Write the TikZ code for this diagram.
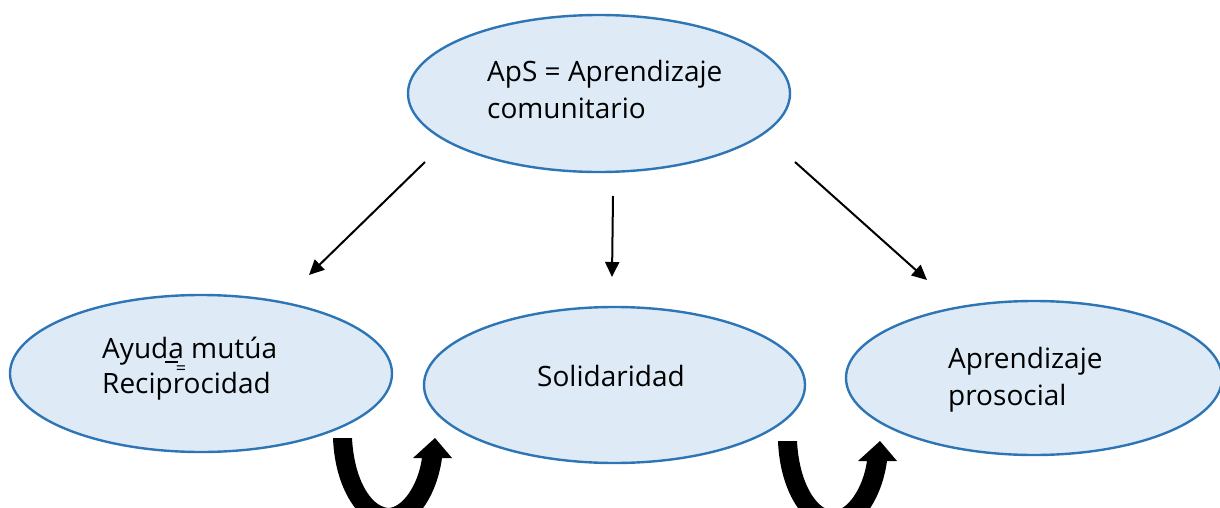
\documentclass[tikz,border=0pt]{standalone}
\usepackage{fontspec}
\setmainfont{Open Sans}
\usetikzlibrary{shapes.geometric,arrows.meta}
\definecolor{ellfill}{HTML}{DEEBF7}
\definecolor{ellline}{HTML}{2E75B6}
\tikzset{
  bubble/.style={ellipse, draw=ellline, fill=ellfill, line width=2.4pt, inner sep=0pt},
  lbl/.style={anchor=base west, inner sep=0pt, font=\fontsize{28}{36}\selectfont},
  link/.style={line width=2pt, -{Triangle[length=15pt,width=14pt]}},
  uturn/.pic={
    \fill[black] (333,438) .. controls (335,492) and (362,528) .. (390,528)
      .. controls (416,528) and (437,495) .. (442,458) -- (452,458) -- (435,438) -- (413,458) -- (422,458)
      .. controls (418,486) and (402,508) .. (388,508)
      .. controls (370,506) and (354,478) .. (352,438) -- cycle;
  }
}
\begin{document}
\begin{tikzpicture}[x=1pt,y=-1pt]
\useasboundingbox (0,0) rectangle (1220,508);
\clip (0,0) rectangle (1220,508);
\node[bubble, minimum width=382pt, minimum height=157pt] (top) at (599,93.5) {};
\node[bubble, minimum width=382pt, minimum height=157pt] (left) at (201,373.5) {};
\node[bubble, minimum width=381pt, minimum height=156pt] (mid) at (614.5,385) {};
\node[bubble, minimum width=376pt, minimum height=154pt] (right) at (1034,378) {};

\node[lbl] (t1) at (487,82) {ApS = Aprendizaje};
\node[lbl] (t2) at (487,118) {comunitario};
\node[lbl] (l1) at (102,358) {Ayuda mutúa};
\node[lbl] (l2) at (102,393) {Reciprocidad};
\node[anchor=center, inner sep=0pt, font=\fontsize{18}{18}\selectfont] (eq) at (181,370) {=};
\draw[line width=1.3pt] (165,362) -- (178,362);
\node[lbl] (m1) at (537,386) {Solidaridad};
\node[lbl] (r1) at (948,368) {Aprendizaje};
\node[lbl] (r2) at (948,405) {prosocial};

\coordinate (a1s) at (425,162); \coordinate (a1e) at (309,275);
\coordinate (a2s) at (613,196); \coordinate (a2e) at (612,277);
\coordinate (a3s) at (795,162); \coordinate (a3e) at (927,280);
\draw[link] (a1s) -- (a1e);
\draw[link] (a2s) -- (a2e);
\draw[link] (a3s) -- (a3e);

\pic at (0,0) {uturn};
\pic at (445,3) {uturn};
\end{tikzpicture}
\end{document}
